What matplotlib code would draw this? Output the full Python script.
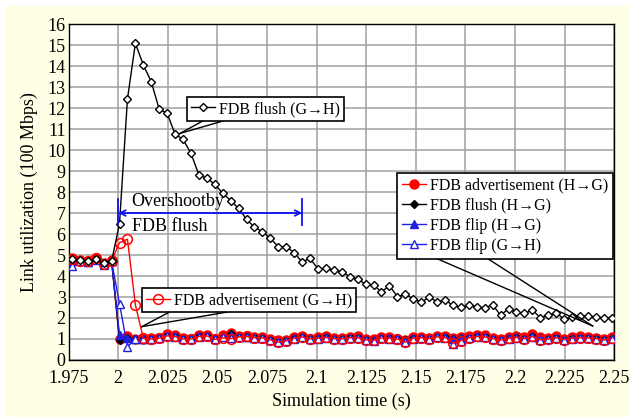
import matplotlib
matplotlib.use("Agg")
import matplotlib.pyplot as plt
from matplotlib.lines import Line2D
from matplotlib.patches import Rectangle

plt.rcParams['font.family'] = ['Liberation Serif', 'DejaVu Serif']

# ---------------- data ----------------
t = [1.9767, 1.9807, 1.9847, 1.9887, 1.9927, 1.9967, 2.0007, 2.0047, 2.0087, 2.0127,
     2.0167, 2.0207, 2.0247, 2.0287, 2.0327, 2.0367, 2.0407, 2.0447, 2.0487, 2.0527,
     2.0567, 2.0607, 2.0647, 2.0687, 2.0727, 2.0767, 2.0807, 2.0847, 2.0887, 2.0927,
     2.0967, 2.1007, 2.1047, 2.1087, 2.1127, 2.1167, 2.1207, 2.1247, 2.1287, 2.1327,
     2.1367, 2.1407, 2.1447, 2.1487, 2.1527, 2.1567, 2.1607, 2.1647, 2.1687, 2.1727,
     2.1767, 2.1807, 2.1847, 2.1887, 2.1927, 2.1967, 2.2007, 2.2047, 2.2087, 2.2127,
     2.2167, 2.2207, 2.2247, 2.2287, 2.2327, 2.2367, 2.2407, 2.2447, 2.2487]

adv_hg = [4.85, 4.78, 4.72, 4.86, 4.62, 4.75, 0.98, 1.12, 1.02, 1.00,
          1.03, 1.06, 1.25, 1.20, 1.05, 1.02, 1.18, 1.20, 1.00, 1.18,
          1.30, 1.14, 1.14, 1.10, 1.10, 0.98, 0.95, 0.95, 1.10, 1.15,
          1.02, 1.08, 1.12, 1.05, 1.04, 1.10, 1.12, 1.00, 0.98, 1.10,
          1.08, 1.02, 0.96, 1.08, 1.10, 1.04, 1.15, 1.12, 1.05, 1.08,
          1.12, 1.20, 1.18, 1.05, 0.98, 1.10, 1.15, 1.08, 1.22, 1.10,
          1.05, 1.12, 1.00, 1.08, 1.12, 1.10, 1.06, 1.00, 1.10]

flush_hg = [4.75, 4.70, 4.68, 4.80, 4.58, 4.72, 0.95, 1.05, 1.00, 1.00,
            1.02, 1.05, 1.20, 1.15, 1.02, 1.00, 1.12, 1.15, 1.00, 1.10,
            1.22, 1.10, 1.10, 1.08, 1.06, 0.96, 0.92, 0.95, 1.05, 1.10,
            1.00, 1.05, 1.08, 1.02, 1.02, 1.08, 1.08, 0.98, 0.96, 1.06,
            1.05, 1.00, 0.95, 1.05, 1.06, 1.02, 1.10, 1.08, 1.02, 1.05,
            1.08, 1.15, 1.12, 1.02, 0.96, 1.06, 1.10, 1.05, 1.15, 1.06,
            1.02, 1.08, 0.98, 1.05, 1.08, 1.06, 1.04, 0.98, 1.06]

flip_hg = [4.70, 4.75, 4.65, 4.80, 4.55, 4.70, 1.20, 1.05, 1.00, 1.00,
           1.02, 1.04, 1.18, 1.12, 1.02, 1.00, 1.12, 1.15, 0.98, 1.12,
           1.20, 1.10, 1.10, 1.06, 1.05, 0.95, 0.92, 0.94, 1.06, 1.10,
           1.00, 1.04, 1.08, 1.02, 1.00, 1.06, 1.08, 0.98, 0.95, 1.05,
           1.05, 1.00, 0.94, 1.04, 1.06, 1.00, 1.10, 1.08, 1.00, 1.04,
           1.08, 1.14, 1.12, 1.00, 0.96, 1.05, 1.10, 1.04, 1.15, 1.06,
           1.02, 1.08, 0.98, 1.04, 1.08, 1.06, 1.02, 0.96, 1.05]

flip_gh = [4.49, 4.70, 4.65, 4.75, 4.52, 4.70, 2.67, 0.63, 1.00, 1.00,
           1.00, 1.04, 1.15, 1.10, 1.00, 1.00, 1.10, 1.12, 0.98, 1.10,
           1.05, 1.08, 1.08, 1.05, 1.04, 0.94, 0.88, 0.92, 1.02, 1.08,
           1.00, 1.02, 1.05, 1.00, 1.00, 1.04, 1.05, 0.95, 0.92, 1.04,
           1.02, 0.98, 0.88, 1.02, 1.04, 1.00, 1.08, 1.06, 0.76, 0.90,
           1.05, 1.10, 1.08, 1.00, 0.94, 1.02, 1.06, 1.02, 1.10, 0.95,
           1.00, 1.05, 0.96, 1.02, 1.05, 1.04, 1.00, 0.94, 1.02]

adv_gh = [4.80, 4.72, 4.70, 4.84, 4.58, 4.72, 5.59, 5.75, 2.62, 1.03,
          1.00, 1.04, 1.15, 1.12, 1.00, 1.00, 1.12, 1.15, 0.98, 1.05,
          1.02, 1.10, 1.12, 1.06, 1.05, 0.96, 0.85, 0.92, 1.04, 1.10,
          1.00, 1.04, 1.08, 1.02, 1.00, 1.06, 1.06, 0.96, 0.94, 1.05,
          1.04, 1.00, 0.85, 1.04, 1.06, 1.02, 1.10, 1.08, 0.80, 0.92,
          1.06, 1.12, 1.10, 1.02, 0.95, 1.04, 1.08, 1.02, 1.12, 0.96,
          1.00, 1.06, 0.97, 1.04, 1.06, 1.05, 1.02, 0.95, 1.04]

flush_gh = [4.80, 4.75, 4.70, 4.80, 4.60, 4.70, 6.50, 12.43, 15.08, 14.05,
            13.25, 11.94, 11.75, 10.75, 10.51, 9.84, 8.81, 8.65, 8.37, 7.94,
            7.59, 7.22, 6.70, 6.32, 6.11, 5.79, 5.40, 5.40, 5.11, 4.67,
            4.84, 4.33, 4.36, 4.29, 4.21, 3.97, 3.86, 3.60, 3.57, 3.24,
            3.54, 3.02, 3.13, 2.92, 2.75, 2.98, 2.78, 2.86, 2.60, 2.51,
            2.62, 2.54, 2.48, 2.63, 2.13, 2.44, 2.27, 2.22, 2.38, 2.02,
            2.14, 2.25, 1.94, 2.06, 2.11, 2.10, 2.03, 2.02, 2.02]

xticks = [1.975, 2.0, 2.025, 2.05, 2.075, 2.1, 2.125, 2.15, 2.175, 2.2, 2.225, 2.25]
xticklabels = ['1.975', '2', '2.025', '2.05', '2.075', '2.1', '2.125', '2.15',
               '2.175', '2.2', '2.225', '2.25']
yticks = list(range(0, 17))

labels = ['FDB advertisement (H\u2192G)', 'FDB flush (H\u2192G)', 'FDB flip (H\u2192G)',
          'FDB flip (G\u2192H)', 'FDB advertisement (G\u2192H)', 'FDB flush (G\u2192H)']

# ---------------- figure ----------------
fig = plt.figure(figsize=(6.32, 4.17), dpi=100)
fig.patch.set_facecolor('white')
fig.patches.append(Rectangle((0.0095, 0.0), 0.987, 0.9856, transform=fig.transFigure,
                             facecolor='#FFFFE6', edgecolor='none', zorder=-10))
ax = fig.add_axes([0.1084, 0.1367, 0.8636, 0.8057])
ax.set_facecolor('white')

RED = '#FF0000'
BLUE = '#2020E0'
BLACK = 'black'

styles = [
    dict(color=RED, marker='o', mfc=RED, mec=RED, ms=6.5, lw=1.0),
    dict(color=BLACK, marker='D', mfc=BLACK, mec=BLACK, ms=4.0, lw=1.0),
    dict(color=BLUE, marker='^', mfc=BLUE, mec=BLUE, ms=5.5, lw=1.0),
    dict(color=BLUE, marker='^', mfc='white', mec=BLUE, ms=6.0, lw=1.0, mew=1.0),
    dict(color=RED, marker='o', mfc='none', mec=RED, ms=7.0, lw=1.0, mew=1.1),
    dict(color=BLACK, marker='D', mfc='white', mec=BLACK, ms=4.5, lw=1.0, mew=1.0),
]
series = [adv_hg, flush_hg, flip_hg, flip_gh, adv_gh, flush_gh]
for k, (ys, st) in enumerate(zip(series, styles)):
    ax.plot(t, ys, label=labels[k], zorder=3 + k, **st)

ax.set_xlim(1.975, 2.25)
ax.set_ylim(0, 16)
ax.set_xticks(xticks)
ax.set_xticklabels(xticklabels)
ax.set_yticks(yticks)
ax.tick_params(axis='both', length=0, labelsize=13)
ax.tick_params(axis='x', pad=7)
ax.tick_params(axis='y', pad=2)
ax.grid(True, color='#A0A0A0', lw=1.1, zorder=0)
ax.set_axisbelow(True)
for s in ax.spines.values():
    s.set_color('black')
    s.set_linewidth(1.0)
ax.set_xlabel('Simulation time (s)', fontsize=13, labelpad=4)
ax.set_ylabel('Link utilization (100 Mbps)', fontsize=13, labelpad=7)


def legend_handle(st):
    return Line2D([], [], **st)


common = dict(loc='upper left', borderaxespad=0, fontsize=11.5, fancybox=False,
              edgecolor='black', framealpha=1, handlelength=1.5, handletextpad=0.25)

leg1 = ax.legend([legend_handle(styles[i]) for i in range(4)], labels[:4],
                 bbox_to_anchor=(0.602, 0.5565), labelspacing=0.25, borderpad=0.3,
                 **common)
leg1.get_frame().set_linewidth(1.2)
leg1.set_zorder(20)
ax.add_artist(leg1)

leg2 = ax.legend([legend_handle(styles[5])], [labels[5]],
                 bbox_to_anchor=(0.2171, 0.7827), borderpad=0.25, **common)
leg2.get_frame().set_linewidth(1.2)
leg2.set_zorder(20)
ax.add_artist(leg2)

leg3 = ax.legend([legend_handle(styles[4])], [labels[4]],
                 bbox_to_anchor=(0.134, 0.2134), borderpad=0.25, **common)
leg3.get_frame().set_linewidth(1.2)
leg3.set_zorder(20)

# callout tails
for (x0, y0), (x1, y1) in [((2.1587, 4.905), (2.2391, 1.62)),
                           ((2.1849, 4.905), (2.2391, 1.62)),
                           ((2.0453, 11.52), (2.0312, 10.79)),
                           ((2.0579, 11.52), (2.0312, 10.79)),
                           ((2.0278, 2.381), (2.0119, 1.586)),
                           ((2.0609, 2.381), (2.0119, 1.586))]:
    ax.plot([x0, x1], [y0, y1], color='black', lw=1.0, zorder=15)

# overshoot arrow
ax.annotate('', xy=(2.0, 7.0), xytext=(2.0928, 7.0),
            arrowprops=dict(arrowstyle='<->', color='#1010F0', lw=1.3,
                            shrinkA=0, shrinkB=0, mutation_scale=10), zorder=16)
ax.plot([2.0, 2.0], [6.43, 7.65], color='#1010F0', lw=1.3, zorder=16)
ax.plot([2.0928, 2.0928], [6.43, 7.65], color='#1010F0', lw=1.3, zorder=16)
ax.text(2.0068, 7.55, 'Overshootby', fontsize=13, va='center', ha='left', zorder=17)
ax.text(2.0068, 6.36, 'FDB flush', fontsize=13, va='center', ha='left', zorder=17)

fig.savefig('out.png', dpi=100, facecolor=fig.get_facecolor())
